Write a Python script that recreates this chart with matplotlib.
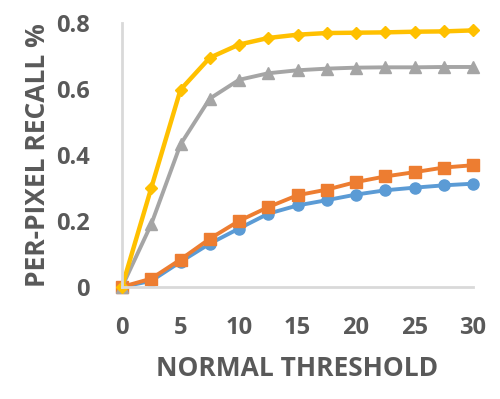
import matplotlib.pyplot as plt

thresholds = [0, 2.5, 5, 7.5, 10, 12.5, 15, 17.5, 20, 22.5, 25, 27.5, 30]
blue_vals = [0, 0.018, 0.076, 0.131, 0.177, 0.222, 0.247, 0.263, 0.280, 0.293, 0.301, 0.308, 0.313]
orange_vals = [0, 0.025, 0.083, 0.146, 0.200, 0.242, 0.278, 0.295, 0.318, 0.335, 0.348, 0.362, 0.369]
gray_vals = [0, 0.190, 0.432, 0.571, 0.628, 0.648, 0.657, 0.662, 0.665, 0.666, 0.666, 0.667, 0.667]
yellow_vals = [0, 0.300, 0.598, 0.695, 0.735, 0.755, 0.765, 0.770, 0.771, 0.772, 0.774, 0.775, 0.778]

text_color = "#595959"
plt.rcParams["font.family"] = ["Open Sans", "DejaVu Sans"]

fig = plt.figure(figsize=(5, 3.99), dpi=100)
ax = fig.add_axes([0.244, 0.281, 0.702, 0.661])

ax.plot(thresholds, blue_vals, color="#5B9BD5", lw=2.8, marker="o", ms=8, clip_on=False)
ax.plot(thresholds, orange_vals, color="#ED7D31", lw=2.8, marker="s", ms=8, clip_on=False)
ax.plot(thresholds, gray_vals, color="#A5A5A5", lw=2.8, marker="^", ms=9, clip_on=False)
ax.plot(thresholds, yellow_vals, color="#FFC000", lw=3.2, marker="D", ms=6, clip_on=False)

ax.set_xlim(0, 30)
ax.set_ylim(0, 0.8)
ax.set_xticks([0, 5, 10, 15, 20, 25, 30])
ax.set_yticks([0, 0.2, 0.4, 0.6, 0.8])
ax.set_yticklabels(["0", "0.2", "0.4", "0.6", "0.8"])

for side in ["top", "right"]:
    ax.spines[side].set_visible(False)
for side in ["left", "bottom"]:
    ax.spines[side].set_color("#D9D9D9")
    ax.spines[side].set_linewidth(2)

ax.tick_params(length=0, labelsize=17, labelcolor=text_color)
ax.tick_params(axis="x", pad=21)
ax.tick_params(axis="y", pad=23)
for lbl in ax.get_xticklabels() + ax.get_yticklabels():
    lbl.set_fontweight("bold")

ax.set_xlabel("NORMAL THRESHOLD", fontsize=19, fontweight="bold", color=text_color, labelpad=11)
ax.set_ylabel("PER-PIXEL RECALL %", fontsize=19, fontweight="bold", color=text_color, labelpad=4)

fig.savefig("out.png")
